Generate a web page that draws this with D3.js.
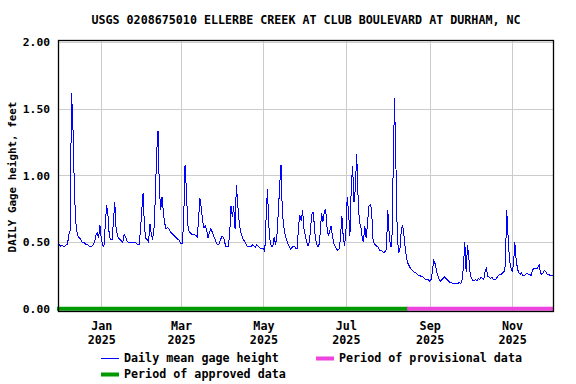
<!DOCTYPE html>
<html>
<head>
<meta charset="utf-8">
<script src="https://cdn.jsdelivr.net/npm/d3@7"></script>
<style>
  body { margin: 0; background: #fff; }
  svg text { font-family: "DejaVu Sans Mono", monospace; font-weight: bold; fill: #000; }
</style>
</head>
<body>
<div id="chart"></div>
<script>
var margin = {top: 40, right: 22, bottom: 72, left: 58},
    width = 576 - margin.left - margin.right,
    height = 384 - margin.top - margin.bottom;

var title = "USGS 0208675010 ELLERBE CREEK AT CLUB BOULEVARD AT DURHAM, NC";
var yLabel = "DAILY Gage height, feet";

// daily mean gage height, feet, one value per day starting at startDate
var startDate = "2024-11-30";
var nov2024 = [0.48];
var dec2024 = [0.48,0.47,0.48,0.47,0.47,0.48,0.48,0.56,0.59,1.62,1.39,0.95,0.66,0.58,0.54,0.53,0.52,0.50,0.50,0.49,0.48,0.48,0.47,0.47,0.47,0.48,0.50,0.55,0.57,0.53,0.63];
var jan2025 = [0.53,0.48,0.47,0.63,0.78,0.70,0.54,0.52,0.52,0.65,0.80,0.60,0.55,0.53,0.52,0.51,0.50,0.56,0.54,0.51,0.50,0.50,0.50,0.50,0.50,0.50,0.49,0.48,0.48,0.59,0.74];
var feb2025 = [0.87,0.60,0.53,0.52,0.50,0.64,0.56,0.52,0.60,0.83,1.17,1.33,0.90,0.74,0.84,0.72,0.64,0.60,0.61,0.60,0.58,0.57,0.56,0.55,0.54,0.53,0.52,0.51];
var mar2025 = [0.49,0.49,0.67,1.08,0.89,0.63,0.58,0.57,0.56,0.56,0.56,0.55,0.54,0.67,0.83,0.76,0.66,0.61,0.62,0.59,0.53,0.57,0.60,0.58,0.55,0.53,0.50,0.48,0.48,0.51,0.54];
var apr2025 = [0.54,0.52,0.47,0.47,0.47,0.55,0.77,0.69,0.77,0.60,0.93,0.78,0.66,0.58,0.55,0.52,0.51,0.49,0.47,0.47,0.47,0.47,0.48,0.47,0.46,0.48,0.47,0.46,0.45,0.45];
var may2025 = [0.45,0.43,0.69,0.90,0.62,0.50,0.47,0.47,0.54,0.48,0.55,0.72,0.92,1.08,0.72,0.62,0.56,0.52,0.49,0.47,0.45,0.46,0.47,0.47,0.45,0.45,0.63,0.70,0.66,0.74,0.60];
var jun2025 = [0.55,0.50,0.47,0.50,0.62,0.72,0.72,0.57,0.50,0.47,0.47,0.57,0.72,0.65,0.72,0.75,0.62,0.55,0.58,0.62,0.55,0.49,0.47,0.45,0.44,0.45,0.53,0.70,0.55,0.47];
var jul2025 = [0.57,0.84,0.72,0.55,0.92,1.07,0.80,0.90,1.16,0.85,0.65,0.62,0.54,0.50,0.62,0.53,0.64,0.77,0.78,0.75,0.53,0.49,0.48,0.47,0.46,0.44,0.44,0.43,0.42,0.43,0.45];
var aug2025 = [0.74,0.57,0.47,0.47,1.05,1.58,1.10,0.57,0.42,0.45,0.59,0.63,0.55,0.45,0.38,0.34,0.32,0.30,0.29,0.28,0.27,0.27,0.26,0.25,0.25,0.24,0.24,0.23,0.22,0.22,0.22];
var sep2025 = [0.21,0.22,0.28,0.36,0.34,0.29,0.25,0.22,0.21,0.22,0.23,0.24,0.23,0.22,0.21,0.20,0.20,0.19,0.19,0.19,0.19,0.19,0.20,0.19,0.22,0.32,0.50,0.28,0.48,0.38];
var oct2025 = [0.26,0.23,0.21,0.21,0.22,0.21,0.23,0.22,0.24,0.23,0.22,0.28,0.31,0.24,0.24,0.23,0.24,0.22,0.22,0.22,0.24,0.25,0.26,0.26,0.27,0.28,0.33,0.74,0.55,0.38,0.31];
var nov2025 = [0.28,0.33,0.50,0.37,0.30,0.27,0.26,0.27,0.25,0.25,0.26,0.27,0.26,0.26,0.25,0.29,0.30,0.30,0.30,0.31,0.33,0.27,0.26,0.27,0.29,0.28,0.26,0.26,0.25,0.25];
var dec2025 = [0.25];

var yTicks = [0, 0.5, 1, 1.5, 2];
var xDomain = ["2024-11-30", "2025-12-02"];

// data-approval periods shown as the bar along the bottom
var periods = [
  {label: "Period of approved data", from: "2024-11-30", to: "2025-08-16", color: "#009a00"},
  {label: "Period of provisional data", from: "2025-08-16", to: "2025-12-02", color: "#ee44dd"}
];
var lineLabel = "Daily mean gage height";
var lineColor = "#0000ff";

var parse = d3.utcParse("%Y-%m-%d");
var start = parse(startDate);
var values = [].concat(nov2024, dec2024, jan2025, feb2025, mar2025, apr2025,
                       may2025, jun2025, jul2025, aug2025, sep2025, oct2025, nov2025, dec2025);
var data = values.map((v, i) => ({date: d3.utcDay.offset(start, i), value: v}));

var x = d3.scaleUtc()
  .domain(xDomain.map(parse))
  .range([0, width]);

var y = d3.scaleLinear()
  .domain([-0.0225, 2.015])
  .range([height, 0]);

var svg = d3.select("#chart").append("svg")
    .attr("width", 576)
    .attr("height", 384);

svg.append("text")
  .attr("x", margin.left + width / 2)
  .attr("y", 24)
  .attr("text-anchor", "middle")
  .style("font-size", "11.7px")
  .text(title);

svg.append("text")
  .attr("transform", "translate(16," + (margin.top + 137) + ") rotate(-90)")
  .attr("text-anchor", "middle")
  .style("font-size", "10.9px")
  .text(yLabel);

var g = svg.append("g")
  .attr("transform", "translate(" + margin.left + "," + margin.top + ")");

// gridlines
g.append("g")
  .selectAll("line")
  .data(yTicks.filter(d => d > 0))
  .join("line")
    .attr("x1", 0).attr("x2", width)
    .attr("y1", d => Math.round(y(d)) + 0.5).attr("y2", d => Math.round(y(d)) + 0.5)
    .attr("stroke", "#cccccc");

g.append("g")
  .selectAll("line")
  .data(x.ticks(d3.utcMonth.every(2)))
  .join("line")
    .attr("x1", d => Math.round(x(d)) + 0.5).attr("x2", d => Math.round(x(d)) + 0.5)
    .attr("y1", 0).attr("y2", height)
    .attr("stroke", "#cccccc");

// approval period bar
g.append("g")
  .selectAll("line")
  .data(periods)
  .join("line")
    .attr("x1", d => x(parse(d.from)) - 1)
    .attr("x2", d => x(parse(d.to)))
    .attr("y1", y(0) - 0.3).attr("y2", y(0) - 0.3)
    .attr("stroke", d => d.color)
    .attr("stroke-width", 4);

var line = d3.line()
  .x(d => x(d.date))
  .y(d => y(d.value));

g.append("path")
  .datum(data)
  .attr("fill", "none")
  .attr("stroke", lineColor)
  .attr("stroke-width", 1)
  .attr("shape-rendering", "crispEdges")
  .attr("d", line);

// frame
g.append("rect")
  .attr("x", 0.5).attr("y", 0.5)
  .attr("width", width - 1).attr("height", height - 1)
  .attr("fill", "none")
  .attr("stroke", "#000")
  .attr("stroke-width", 1.3);

// axes
var yAxis = g.append("g")
  .call(d3.axisLeft(y).tickValues(yTicks).tickFormat(d3.format(".2f")).tickSize(0).tickPadding(8));
yAxis.select(".domain").remove();
yAxis.selectAll("text")
  .attr("font-family", null)
  .style("font-size", "11.3px");

var xAxis = g.append("g")
  .attr("transform", `translate(0,${height})`)
  .call(d3.axisBottom(x).ticks(d3.utcMonth.every(2)).tickSize(0).tickFormat(d3.utcFormat("%b")));
xAxis.select(".domain").remove();
xAxis.selectAll("text")
  .style("font-size", "11.7px")
  .attr("y", 0)
  .attr("dy", null)
  .text(null)
  .each(function(d) {
    var t = d3.select(this);
    t.append("tspan").attr("x", 0).attr("y", 18).text(d3.utcFormat("%b")(d));
    t.append("tspan").attr("x", 0).attr("y", 32).text(d3.utcFormat("%Y")(d));
  });

// legend
var legend = svg.append("g").style("font-size", "11.7px");

legend.append("line")
  .attr("x1", 101).attr("x2", 119)
  .attr("y1", 358.5).attr("y2", 358.5)
  .attr("stroke", lineColor).attr("stroke-width", 1);
legend.append("text").attr("x", 124).attr("y", 362).text(lineLabel);

legend.append("rect")
  .attr("x", 316).attr("y", 356.5).attr("width", 18).attr("height", 4)
  .attr("fill", periods[1].color);
legend.append("text").attr("x", 339).attr("y", 362).text(periods[1].label);

legend.append("rect")
  .attr("x", 101).attr("y", 372.5).attr("width", 18).attr("height", 4)
  .attr("fill", periods[0].color);
legend.append("text").attr("x", 124).attr("y", 378).text(periods[0].label);
</script>
</body>
</html>
